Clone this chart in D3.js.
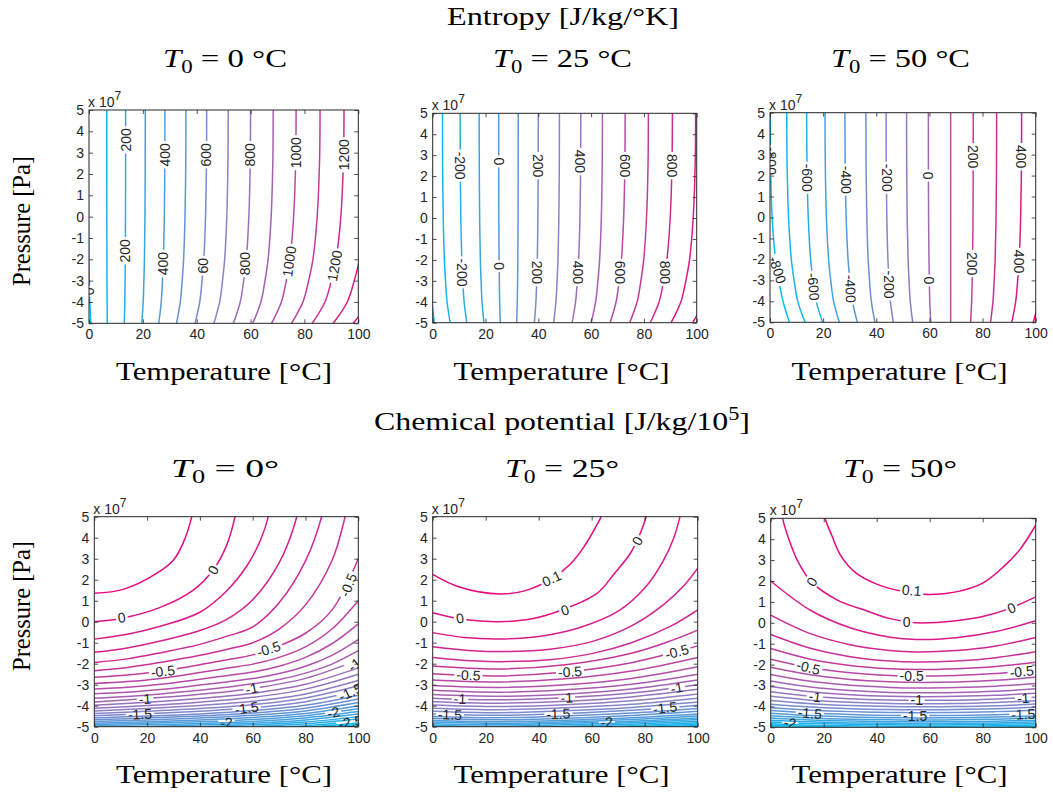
<!DOCTYPE html>
<html><head><meta charset="utf-8">
<script src="https://cdn.jsdelivr.net/npm/d3@7"></script>
<style>body{margin:0;background:#fff}svg{display:block}</style>
</head><body>
<svg id="c" width="1053" height="796"></svg>
<script>
// ---------------- DATA ----------------
const tempTicks = [0, 20, 40, 60, 80, 100];
const presTicks = [5, 4, 3, 2, 1, 0, -1, -2, -3, -4, -5];

// Entropy: temperature of each contour line at these pressures (x1e7 Pa)
const entropyP = [5, 2.5, 0, -2, -3, -4, -5];

const entropy0Levels = [0,100,200,300,400,500,600,700,800,900,1000,1100,1200,1300,1400];
const entropy0T = [
 [-0.3,-0.28,-0.2,-0.05,0.1,0.3,0.7],
 [6.6,6.6,6.62,6.65,6.68,6.72,6.8],
 [13.6,13.59,13.55,13.48,13.4,13.3,13.1],
 [20.9,20.87,20.77,20.58,20.38,20.12,19.6],
 [28.2,28.15,27.97,27.63,27.28,26.82,25.9],
 [36.0,35.93,35.65,35.13,34.6,33.9,32.5],
 [43.7,43.61,43.27,42.63,41.98,41.12,39.4],
 [51.7,51.59,51.17,50.38,49.58,48.52,46.4],
 [60.0,59.87,59.36,58.4,57.44,56.16,53.6],
 [68.4,68.25,67.64,66.5,65.36,63.84,60.8],
 [76.9,76.72,75.99,74.63,73.26,71.44,67.8],
 [85.8,85.59,84.74,83.15,81.56,79.44,75.2],
 [94.7,94.46,93.52,91.75,89.98,87.62,82.9],
 [103.7,103.44,102.4,100.45,98.5,95.9,90.7],
 [112.5,112.21,111.06,108.9,106.74,103.86,98.1]
];
const entropy0Labels = [
 ["200",200,13.6,3.6,-90],["400",400,28.2,2.9,-90],["600",600,43.6,2.9,-90],["800",800,59.9,2.9,-90],
 ["1000",1000,76.8,3.0,-90],["1200",1200,94.6,2.9,-90],
 ["200",200,13.5,-1.6,-90],["400",400,27.5,-2.2,-90],["60",600,42.3,-2.3,-90],["800",800,58.0,-2.2,-90],
 ["1000",1000,74.3,-2.1,-82],["1200",1200,91.2,-2.3,-80],["0",0,0.1,-3.5,-90]
];

const entropy25Levels = [-400,-300,-200,-100,0,100,200,300,400,500,600,700,800,900,1000];
const entropy25T = [
 [-1.5,-1.46,-1.29,-0.98,-0.66,-0.24,0.6],
 [3.7,3.76,3.99,4.43,4.86,5.44,6.6],
 [10.4,10.45,10.65,11.03,11.4,11.9,12.9],
 [17.6,17.64,17.78,18.05,18.32,18.68,19.4],
 [25.0,25.01,25.06,25.15,25.24,25.36,25.6],
 [32.4,32.39,32.34,32.25,32.16,32.04,31.8],
 [40.0,39.97,39.85,39.63,39.4,39.1,38.5],
 [48.0,47.96,47.78,47.45,47.12,46.68,45.8],
 [56.1,56.03,55.77,55.28,54.78,54.12,52.8],
 [64.3,64.21,63.87,63.23,62.58,61.72,60.0],
 [72.9,72.79,72.33,71.48,70.62,69.48,67.2],
 [81.7,81.56,80.99,79.93,78.86,77.44,74.6],
 [90.8,90.63,89.96,88.7,87.44,85.76,82.4],
 [99.6,99.41,98.67,97.28,95.88,94.02,90.3],
 [108.5,108.3,107.5,106.0,104.5,102.5,98.5]
];
const entropy25Labels = [
 ["-200",-200,10.5,2.5,90],["0",0,25.0,2.7,90],["200",200,40.0,2.5,90],["400",400,56.0,2.7,90],
 ["600",600,72.8,2.5,90],["800",800,90.6,2.5,90],
 ["-200",-200,11.3,-2.6,90],["0",0,25.2,-2.3,90],["200",200,39.5,-2.6,90],["400",400,55.0,-2.6,90],
 ["600",600,71.0,-2.6,90],["800",800,88.1,-2.6,90]
];

const entropy50Levels = [-800,-700,-600,-500,-400,-300,-200,-100,0,100,200,300,400,500];
const entropy50T = [
 [0.1,0.2,0.8,2.1,3.3,4.9,7.3],
 [6.3,6.44,6.99,8.03,9.06,10.44,13.2],
 [13.8,13.92,14.4,15.3,16.2,17.4,19.8],
 [20.7,20.81,21.24,22.05,22.86,23.94,26.1],
 [28.2,28.29,28.67,29.38,30.08,31.02,32.9],
 [36.1,36.17,36.44,36.95,37.46,38.14,39.5],
 [43.7,43.75,43.97,44.38,44.78,45.32,46.4],
 [51.4,51.45,51.63,51.98,52.32,52.78,53.7],
 [59.6,59.62,59.69,59.83,59.96,60.14,60.5],
 [68,68,68,68,68,68,68],
 [76.5,76.48,76.4,76.25,76.1,75.9,75.5],
 [85.3,85.25,85.07,84.73,84.38,83.92,83.0],
 [94.7,94.63,94.33,93.78,93.22,92.48,91.0],
 [104.0,103.9,103.51,102.78,102.04,101.06,99.1]
];
const entropy50Labels = [
 ["-800",-800,0.3,2.7,90],["-600",-600,13.9,1.9,90],["-400",-400,28.5,1.8,90],["-200",-200,43.9,1.9,90],
 ["0",0,59.65,2.0,90],["200",200,76.5,2.9,90],["400",400,94.6,2.9,90],
 ["-800",-800,2.9,-2.5,72],["-600",-600,16.4,-3.3,85],["-400",-400,30.3,-3.4,88],["-200",-200,44.9,-3.2,90],
 ["0",0,60.0,-3.0,90],["200",200,76.2,-2.2,90],["400",400,93.6,-2.1,90]
];

// Chemical potential, T0 = 0
const chem0UpperLevels = [0.1, 0, -0.1, -0.2, -0.3, -0.4, -0.5, -0.6, -0.7, -0.8, -0.9];
const chem0UpperPts = [
 [[0,1.35],[11,1.54],[23.6,2.3],[30,2.94],[33.6,3.73],[36.9,5.0],[37.6,5.6]],
 [[0,0],[10,0.15],[25,0.68],[37.5,1.5],[45,2.46],[50,3.6],[53.3,5.0],[54,5.6]],
 [[0,-0.83],[12.5,-0.6],[25,-0.22],[40,0.45],[50,1.45],[58,2.7],[63,3.9],[65.9,5.0],[66.6,5.6]],
 [[0,-1.46],[12.5,-1.25],[25,-0.92],[40,-0.42],[50,0.1],[60,1.05],[70,2.8],[76.7,5.0],[77.5,5.6]],
 [[0,-1.94],[12.5,-1.77],[25,-1.48],[40,-1.08],[50,-0.7],[60,-0.25],[70,0.9],[80,2.9],[86.1,5.0],[87,5.6]],
 [[0,-2.33],[12.5,-2.18],[25,-1.94],[40,-1.6],[50,-1.32],[60,-1.0],[70,-0.35],[80,0.8],[90,2.9],[95,5.0],[96,5.6]],
 [[0,-2.65],[12.5,-2.54],[25,-2.36],[40,-2.05],[50,-1.82],[60,-1.58],[70,-1.15],[80,-0.55],[90,0.55],[100,3.0]],
 [[0,-2.94],[12.5,-2.85],[25,-2.7],[40,-2.42],[50,-2.22],[60,-2.02],[70,-1.7],[80,-1.2],[90,-0.35],[100,1.0]],
 [[0,-3.2],[12.5,-3.12],[25,-2.98],[40,-2.74],[50,-2.57],[60,-2.4],[70,-2.12],[80,-1.7],[90,-1.05],[100,-0.1]],
 [[0,-3.43],[12.5,-3.36],[25,-3.23],[40,-3.02],[50,-2.87],[60,-2.71],[70,-2.47],[80,-2.12],[90,-1.6],[100,-0.85]],
 [[0,-3.64],[12.5,-3.56],[25,-3.44],[40,-3.26],[50,-3.12],[60,-2.96],[70,-2.75],[80,-2.45],[90,-2.02],[100,-1.38]]
];
const chem0GridT = [0, 20, 40, 60, 80, 100];
const chem0LowerLevels = [-1,-1.1,-1.2,-1.3,-1.4,-1.5,-1.6,-1.7,-1.8,-1.9,-2,-2.1,-2.2,-2.3,-2.4,-2.5,-2.6,-2.7,-2.8];
const chem0LowerP = [
 [-3.82,-3.66,-3.46,-3.18,-2.7,-1.82],
 [-3.98,-3.84,-3.66,-3.41,-2.98,-2.2],
 [-4.12,-3.99,-3.83,-3.6,-3.21,-2.5],
 [-4.25,-4.13,-3.99,-3.79,-3.44,-2.8],
 [-4.37,-4.26,-4.13,-3.95,-3.63,-3.05],
 [-4.48,-4.38,-4.26,-4.1,-3.81,-3.28],
 [-4.58,-4.49,-4.39,-4.23,-3.98,-3.5],
 [-4.67,-4.59,-4.49,-4.35,-4.12,-3.68],
 [-4.75,-4.68,-4.59,-4.46,-4.25,-3.85],
 [-4.83,-4.76,-4.68,-4.56,-4.37,-4.0],
 [-4.9,-4.84,-4.77,-4.66,-4.48,-4.15],
 [-4.97,-4.91,-4.85,-4.75,-4.58,-4.28],
 [-5.04,-4.99,-4.92,-4.84,-4.68,-4.4],
 [-5.1,-5.05,-5.0,-4.91,-4.78,-4.52],
 [-5.16,-5.12,-5.06,-4.99,-4.86,-4.63],
 [-5.22,-5.18,-5.13,-5.06,-4.95,-4.73],
 [-5.28,-5.24,-5.2,-5.13,-5.02,-4.82],
 [-5.33,-5.3,-5.26,-5.2,-5.09,-4.9],
 [-5.38,-5.35,-5.32,-5.26,-5.15,-4.97]
];
const chem0Labels = [
 ["0",0,45,2.46,-62],["0",0,10.4,0.2,-8],["-0.5",-0.5,96.2,1.75,-68],["-0.5",-0.5,66,-1.3,-18],["-0.5",-0.5,26,-2.36,-6],
 ["-1",-1,98.5,-2.05,-40],["-1",-1,59.6,-3.18,-12],["-1",-1,19.2,-3.67,-4],
 ["-1.5",-1.5,97,-3.35,-25],["-1.5",-1.5,57.7,-4.11,-8],["-1.5",-1.5,17.3,-4.4,-3],
 ["-2",-2,90.5,-4.32,-14],["-2",-2,50.1,-4.8,-5],["-2.5",-2.5,97,-4.78,-10]
];

// Chemical potential, T0 = 25
const chem25UpperLevels = [0.1, 0, -0.1, -0.2, -0.3, -0.4, -0.5];
const chem25UpperPts = [
 [[0,2.25],[10,1.65],[25.4,1.32],[35,1.48],[44.3,2.0],[52,2.75],[57,3.55],[61.9,4.6],[63.5,5.0],[64.2,5.6]],
 [[0,0.43],[12,0.1],[25,0],[38,0.15],[49.4,0.59],[62,1.35],[68.6,2.3],[74.6,3.26],[78.3,4.2],[80.5,5],[81.3,5.6]],
 [[0,-0.52],[12,-0.75],[25,-0.82],[40,-0.7],[55,-0.3],[70,0.5],[80,1.6],[87,2.9],[91,4.0],[93.3,5],[94.2,5.6]],
 [[0,-1.19],[15,-1.38],[28,-1.42],[45,-1.3],[60,-0.95],[75,-0.2],[87,0.8],[95,1.75],[100,2.55]],
 [[0,-1.7],[15,-1.86],[28,-1.9],[45,-1.8],[60,-1.52],[75,-1.0],[90,-0.2],[100,0.56]],
 [[0,-2.11],[25,-2.25],[50,-2.05],[75,-1.5],[90,-0.9],[100,-0.4]],
 [[0,-2.48],[25,-2.58],[50,-2.4],[75,-1.95],[92,-1.43],[100,-1.15]]
];
const chem25GridT = [0, 25, 50, 75, 100];
const chem25LowerLevels = [-0.6,-0.7,-0.8,-0.9,-1,-1.1,-1.2,-1.3,-1.4,-1.5,-1.6,-1.7,-1.8,-1.9,-2,-2.1,-2.2,-2.3,-2.4,-2.5,-2.6];
const chem25LowerP = [
 [-2.78,-2.87,-2.72,-2.35,-1.7],
 [-3.04,-3.13,-3.0,-2.7,-2.15],
 [-3.27,-3.36,-3.24,-2.98,-2.5],
 [-3.47,-3.55,-3.45,-3.21,-2.78],
 [-3.64,-3.72,-3.62,-3.4,-3.0],
 [-3.81,-3.88,-3.79,-3.58,-3.22],
 [-3.97,-4.04,-3.95,-3.76,-3.44],
 [-4.12,-4.19,-4.1,-3.93,-3.64],
 [-4.26,-4.33,-4.24,-4.08,-3.82],
 [-4.4,-4.46,-4.37,-4.22,-3.98],
 [-4.51,-4.57,-4.49,-4.35,-4.13],
 [-4.61,-4.67,-4.6,-4.47,-4.27],
 [-4.7,-4.76,-4.69,-4.57,-4.39],
 [-4.78,-4.84,-4.77,-4.66,-4.49],
 [-4.86,-4.91,-4.84,-4.74,-4.58],
 [-4.93,-4.98,-4.91,-4.81,-4.66],
 [-5.0,-5.05,-4.98,-4.88,-4.74],
 [-5.06,-5.11,-5.04,-4.95,-4.81],
 [-5.12,-5.17,-5.1,-5.01,-4.88],
 [-5.18,-5.22,-5.16,-5.07,-4.94],
 [-5.24,-5.28,-5.22,-5.13,-5.0]
];
const chem25Labels = [
 ["0",0,77.2,3.85,-60],["0.1",0.1,44.9,2.06,-25],["0",0,49.9,0.56,-18],["0",0,10.3,0.17,-10],
 ["-0.5",-0.5,92.1,-1.43,-15],["-0.5",-0.5,51.8,-2.38,-4],["-0.5",-0.5,13.5,-2.54,3],
 ["-1",-1,92.1,-3.15,-10],["-1",-1,50.6,-3.62,-3],["-1",-1,10.3,-3.67,2],
 ["-1.5",-1.5,87.7,-4.1,-7],["-1.5",-1.5,47.4,-4.38,-2],["-1.5",-1.5,6.5,-4.42,2],
 ["-2",-2,65.7,-4.78,-4]
];

// Chemical potential, T0 = 50
const chem50UpperLevels = [0.1, 0];
const chem50UpperPts = [
 [[19.8,5.6],[20.5,5],[23,4.2],[26.5,3.2],[32,2.4],[40,1.85],[50,1.5],[60,1.36],[70,1.48],[80,1.9],[88,2.7],[94,3.5],[100,4.67]],
 [[3.9,5.6],[4.5,5],[7,3.95],[10,3.0],[15.3,1.97],[25,1.1],[36.7,0.55],[45,0.2],[55,0],[70,0.1],[80,0.3],[90,0.68],[100,1.24]]
];
const chem50GridT = [0, 15, 30, 45, 55, 70, 85, 100];
const chem50LowerLevels = [-0.1,-0.2,-0.3,-0.4,-0.5,-0.6,-0.7,-0.8,-0.9,-1,-1.1,-1.2,-1.3,-1.4,-1.5,-1.6,-1.7,-1.8,-1.9,-2,-2.1,-2.2,-2.3];
const chem50LowerP = [
 [2.0,0.6,-0.24,-0.69,-0.8,-0.71,-0.42,0.1],
 [0.37,-0.52,-1.05,-1.33,-1.4,-1.33,-1.11,-0.7],
 [-0.56,-1.22,-1.62,-1.83,-1.88,-1.83,-1.67,-1.38],
 [-1.23,-1.74,-2.04,-2.2,-2.24,-2.2,-2.09,-1.89],
 [-1.74,-2.15,-2.39,-2.52,-2.55,-2.52,-2.43,-2.27],
 [-2.13,-2.49,-2.71,-2.82,-2.85,-2.83,-2.75,-2.61],
 [-2.47,-2.8,-2.99,-3.09,-3.12,-3.1,-3.03,-2.91],
 [-2.78,-3.07,-3.24,-3.33,-3.35,-3.33,-3.27,-3.16],
 [-3.05,-3.3,-3.44,-3.52,-3.54,-3.52,-3.47,-3.37],
 [-3.3,-3.51,-3.63,-3.69,-3.71,-3.7,-3.65,-3.56],
 [-3.52,-3.7,-3.8,-3.86,-3.87,-3.86,-3.81,-3.73],
 [-3.72,-3.87,-3.96,-4.01,-4.02,-4.01,-3.97,-3.89],
 [-3.9,-4.03,-4.11,-4.15,-4.16,-4.15,-4.11,-4.04],
 [-4.06,-4.18,-4.25,-4.29,-4.3,-4.29,-4.25,-4.19],
 [-4.2,-4.32,-4.39,-4.43,-4.44,-4.43,-4.4,-4.34],
 [-4.33,-4.44,-4.51,-4.54,-4.55,-4.54,-4.51,-4.46],
 [-4.45,-4.55,-4.61,-4.64,-4.65,-4.64,-4.61,-4.56],
 [-4.56,-4.65,-4.7,-4.73,-4.74,-4.73,-4.71,-4.66],
 [-4.66,-4.74,-4.79,-4.81,-4.82,-4.81,-4.79,-4.74],
 [-4.75,-4.82,-4.86,-4.88,-4.89,-4.88,-4.86,-4.82],
 [-4.83,-4.9,-4.93,-4.95,-4.96,-4.95,-4.93,-4.89],
 [-4.9,-4.96,-5.0,-5.02,-5.02,-5.02,-4.99,-4.96],
 [-4.97,-5.02,-5.06,-5.08,-5.08,-5.08,-5.05,-5.02]
];
const chem50Labels = [
 ["0",0,15.5,1.96,-58],["0.1",0.1,53.2,1.55,5],["0",0,90.9,0.72,-22],["0",0,51.3,0.05,0],
 ["-0.5",-0.5,14.2,-2.13,14],["-0.5",-0.5,53.2,-2.55,0],["-0.5",-0.5,94.7,-2.33,-6],
 ["-1",-1,16.7,-3.53,7],["-1",-1,55.1,-3.71,0],["-1",-1,95.3,-3.6,-4],
 ["-1.5",-1.5,14.8,-4.32,5],["-1.5",-1.5,54.5,-4.44,0],["-1.5",-1.5,95.3,-4.37,-3],
 ["-2",-2,7.3,-4.79,8]
];

// ---------------- DRAWING ----------------
const W = 1053, H = 796;
const SERIF = "'Liberation Serif','Times New Roman',serif";
const SANS = "'Liberation Sans',Arial,Helvetica,sans-serif";
const INK = '#262626';
const svg = d3.select('#c');
const defs = svg.append('defs');
const cmap = d3.scaleLinear().domain([0, 0.5, 1]).range(['#00BEF2', '#8C82C8', '#E8077F']).interpolate(d3.interpolateRgb);

function entropySets(levels, Ts) {
  return levels.map((lv, i) => ({level: lv, pts: Ts[i].map((t, j) => [t, entropyP[j]])}));
}
function chemSets(upL, upP, gridT, loL, loP) {
  const a = upL.map((lv, i) => ({level: lv, pts: upP[i]}));
  const b = loL.map((lv, i) => ({level: lv, pts: loP[i].map((p, j) => [gridT[j], p])}));
  return a.concat(b);
}

function drawPanel(fr, id, sets, labels) {
  const x = d3.scaleLinear().domain([0, 100]).range([fr.l, fr.r]);
  const y = d3.scaleLinear().domain([-5, 5]).range([fr.b, fr.t]);
  const lvls = sets.map(s => s.level);
  const lo = d3.min(lvls), hi = d3.max(lvls);
  const col = lv => cmap((lv - lo) / (hi - lo));
  defs.append('clipPath').attr('id', 'clip-' + id).append('rect')
    .attr('x', fr.l).attr('y', fr.t).attr('width', fr.r - fr.l).attr('height', fr.b - fr.t);
  const gLines = svg.append('g').attr('clip-path', `url(#clip-${id})`);
  const gLab = svg.append('g').attr('clip-path', `url(#clip-${id})`);
  const line = d3.line().x(d => x(d[0])).y(d => y(d[1])).curve(d3.curveCatmullRom.alpha(0.5));

  const labInfo = labels.map(([txt, lv, T, P, rot]) => {
    const t = gLab.append('text')
      .attr('transform', `translate(${x(T)},${y(P)}) rotate(${rot})`)
      .attr('text-anchor', 'middle').attr('dy', '0.36em')
      .style('font-family', SANS).style('font-size', '14px').attr('fill', INK)
      .text(txt);
    return {lv, T, P, rot, w: t.node().getComputedTextLength()};
  });
  const byLevel = d3.group(labInfo, d => d.lv);

  sets.forEach((s, i) => {
    const p = gLines.append('path').attr('d', line(s.pts))
      .attr('fill', 'none').attr('stroke', col(s.level)).attr('stroke-width', 1.5)
      .attr('stroke-linejoin', 'round');
    if (byLevel.has(s.level)) {
      const mid = `m-${id}-${i}`;
      const m = defs.append('mask').attr('id', mid).attr('maskUnits', 'userSpaceOnUse')
        .attr('x', 0).attr('y', 0).attr('width', W).attr('height', H);
      m.append('rect').attr('x', 0).attr('y', 0).attr('width', W).attr('height', H).attr('fill', '#fff');
      byLevel.get(s.level).forEach(d => {
        m.append('rect').attr('x', -d.w / 2 - 2).attr('y', -7).attr('width', d.w + 4).attr('height', 14)
          .attr('fill', '#000').attr('transform', `translate(${x(d.T)},${y(d.P)}) rotate(${d.rot})`);
      });
      p.attr('mask', `url(#${mid})`);
    }
  });

  // axes
  const ax = svg.append('g');
  const fmt = d => String(d);
  ax.append('g').attr('transform', `translate(0,${fr.b})`)
    .call(d3.axisBottom(x).tickValues(tempTicks).tickSizeInner(-4).tickSizeOuter(0).tickPadding(6).tickFormat(fmt));
  ax.append('g').attr('transform', `translate(0,${fr.t})`)
    .call(d3.axisTop(x).tickValues(tempTicks).tickSizeInner(-4).tickSizeOuter(0).tickFormat(''));
  ax.append('g').attr('transform', `translate(${fr.l},0)`)
    .call(d3.axisLeft(y).tickValues(presTicks).tickSizeInner(-4).tickSizeOuter(0).tickPadding(5).tickFormat(fmt));
  ax.append('g').attr('transform', `translate(${fr.r},0)`)
    .call(d3.axisRight(y).tickValues(presTicks).tickSizeInner(-4).tickSizeOuter(0).tickFormat(''));
  ax.selectAll('.domain').remove();
  ax.selectAll('.tick line').attr('stroke', INK).attr('stroke-width', 0.8);
  ax.selectAll('.tick text').style('font-family', SANS).style('font-size', '14px').attr('fill', INK);
  ax.append('rect').attr('x', fr.l).attr('y', fr.t).attr('width', fr.r - fr.l).attr('height', fr.b - fr.t)
    .attr('fill', 'none').attr('stroke', INK).attr('stroke-width', 1);
  // exponent
  const ex = ax.append('text').attr('x', fr.l - 1).attr('y', fr.t - 3)
    .style('font-family', SANS).style('font-size', '14px').attr('fill', INK);
  ex.append('tspan').text('x 10');
  ex.append('tspan').attr('dy', -7).style('font-size', '12px').text('7');
}

function title(x, y, parts, size, len, rot) {
  const t = svg.append('text').attr('x', x).attr('y', y).attr('text-anchor', 'middle')
    .style('font-family', SERIF).style('font-size', size + 'px').attr('fill', '#000');
  if (len) t.attr('textLength', len).attr('lengthAdjust', 'spacingAndGlyphs');
  if (rot) t.attr('transform', `rotate(${rot},${x},${y})`);
  parts.forEach(p => {
    const s = t.append('tspan').text(p.t);
    if (p.i) s.style('font-style', 'italic');
    if (p.dy) s.attr('dy', p.dy);
    if (p.small) s.style('font-size', (size * 0.7) + 'px');
  });
}

const FR = {
  e0: {l: 89, r: 358.3, t: 110, b: 323.3},
  e25: {l: 432.7, r: 696.7, t: 113.3, b: 322.7},
  e50: {l: 770, r: 1035.7, t: 112.7, b: 322.3},
  c0: {l: 94.3, r: 358.3, t: 516.7, b: 726.7},
  c25: {l: 432.7, r: 697.7, t: 516.7, b: 726.7},
  c50: {l: 770.7, r: 1035.7, t: 518.3, b: 727.3}
};

drawPanel(FR.e0, 'e0', entropySets(entropy0Levels, entropy0T), entropy0Labels);
drawPanel(FR.e25, 'e25', entropySets(entropy25Levels, entropy25T), entropy25Labels);
drawPanel(FR.e50, 'e50', entropySets(entropy50Levels, entropy50T), entropy50Labels);
drawPanel(FR.c0, 'c0', chemSets(chem0UpperLevels, chem0UpperPts, chem0GridT, chem0LowerLevels, chem0LowerP), chem0Labels);
drawPanel(FR.c25, 'c25', chemSets(chem25UpperLevels, chem25UpperPts, chem25GridT, chem25LowerLevels, chem25LowerP), chem25Labels);
drawPanel(FR.c50, 'c50', chemSets(chem50UpperLevels, chem50UpperPts, chem50GridT, chem50LowerLevels, chem50LowerP), chem50Labels);

// titles
title(563, 25, [{t: 'Entropy [J/kg/°K]'}], 25, 232);
const t0top = [[225, '0', 124], [562.5, '25', 139], [900.5, '50', 139]];
t0top.forEach(([cx, v, len]) => title(cx, 67, [{t: 'T', i: 1}, {t: '0', dy: 6, small: 1}, {t: ' = ' + v + ' °C', dy: -6}], 26, len));
[224, 561.5, 899.5].forEach(cx => title(cx, 380, [{t: 'Temperature [°C]'}], 26, 216));
title(562, 430, [{t: 'Chemical potential [J/kg/10'}, {t: '5', dy: -10, small: 1}, {t: ']', dy: 10}], 26, 376);
const t0bot = [[225, '0', 108], [562, '25', 114], [900, '50', 114]];
t0bot.forEach(([cx, v, len]) => title(cx, 477, [{t: 'T', i: 1}, {t: '0', dy: 6, small: 1}, {t: ' = ' + v + '°', dy: -6}], 26, len));
[224, 561.5, 899.5].forEach(cx => title(cx, 783, [{t: 'Temperature [°C]'}], 26, 216));
title(30, 221, [{t: 'Pressure [Pa]'}], 26, 130, -90);
title(30, 606, [{t: 'Pressure [Pa]'}], 26, 130, -90);
</script>
</body></html>
